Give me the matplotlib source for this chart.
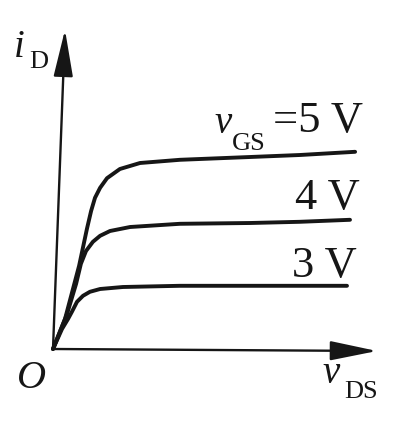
import matplotlib
matplotlib.use("Agg")
import matplotlib.pyplot as plt

# ---- data (vDS and iD in arbitrary units) ----
vgs_labels = ["5 V", "4 V", "3 V"]

vds_5 = [0, 0.40, 0.87, 1.13, 1.27, 1.40, 1.57, 1.80, 2.23, 2.90, 4.23, 6.57, 8.23, 10.07]
id_5 = [0, 0.75, 2.08, 3.00, 3.45, 3.78, 4.03, 4.27, 4.50, 4.65, 4.73, 4.80, 4.85, 4.93]

vds_4 = [0, 0.47, 0.77, 0.93, 1.10, 1.33, 1.57, 1.90, 2.57, 4.23, 6.57, 8.23, 9.90]
id_4 = [0, 0.88, 1.63, 2.13, 2.45, 2.68, 2.83, 2.95, 3.05, 3.13, 3.15, 3.18, 3.23]

vds_3 = [0, 0.30, 0.50, 0.63, 0.80, 1.00, 1.23, 1.57, 2.33, 4.23, 6.57, 9.80]
id_3 = [0, 0.50, 0.75, 0.93, 1.18, 1.33, 1.43, 1.50, 1.55, 1.58, 1.58, 1.58]

curves = [(vds_5, id_5), (vds_4, id_4), (vds_3, id_3)]

# ---- figure ----
fig = plt.figure(figsize=(4.0, 4.27), dpi=100)
ax = fig.add_axes([0, 0, 1, 1])
ax.set_xlim(-1.7667, 11.5667)
ax.set_ylim(-1.925, 8.75)
ax.axis("off")

ink = "#161616"
for x, y in curves:
    ax.plot(x, y, color=ink, lw=2.8, solid_capstyle="round", solid_joinstyle="round")

# axes arrows
arrow_kw = dict(arrowstyle="-|>,head_length=1.45,head_width=0.3", color=ink, lw=1.7,
                shrinkA=0, shrinkB=0, mutation_scale=20)
ax.annotate("", xy=(0.40, 7.98), xytext=(0, 0), arrowprops=arrow_kw)
ax.annotate("", xy=(10.8, -0.05), xytext=(0, 0), arrowprops=arrow_kw)

serif = "Liberation Serif"
big, mid, sub = 32, 28, 19
# y-axis label i_D
ax.text(-1.30, 7.33, "i", fontsize=mid, style="italic", family=serif, color=ink, va="baseline")
ax.text(-0.80, 7.05, "D", fontsize=sub, family=serif, color=ink, va="baseline")

# x-axis label v_DS
ax.text(8.97, -0.83, "v", fontsize=mid, style="italic", family=serif, color=ink, va="baseline")
ax.text(9.70, -1.2, "DS", fontsize=sub, family=serif, color=ink, va="baseline")

# origin
ax.text(-0.72, -0.95, "O", fontsize=29, style="italic", family=serif, color=ink,
        va="baseline", ha="center")

# curve labels
ax.text(5.37, 5.43, "v", fontsize=mid, style="italic", family=serif, color=ink, va="baseline")
ax.text(5.97, 5.0, "GS", fontsize=sub, family=serif, color=ink, va="baseline")
ax.text(10.33, 5.45, "=" + vgs_labels[0], fontsize=big, family=serif, color=ink,
        va="baseline", ha="right")
ax.text(10.23, 3.53, vgs_labels[1], fontsize=big, family=serif, color=ink,
        va="baseline", ha="right")
ax.text(10.13, 1.83, vgs_labels[2], fontsize=big, family=serif, color=ink,
        va="baseline", ha="right")

fig.savefig("out.png", dpi=100, facecolor="white")
